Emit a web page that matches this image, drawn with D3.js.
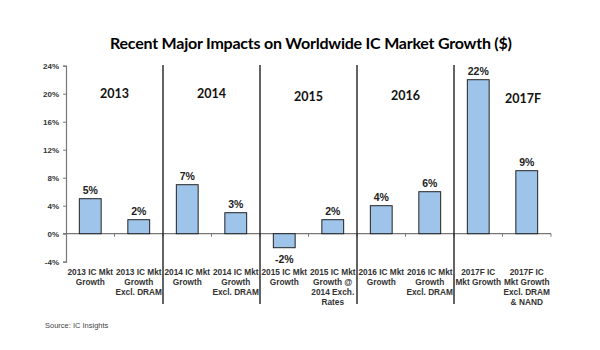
<!DOCTYPE html>
<html>
<head>
<meta charset="utf-8">
<script src="https://cdn.jsdelivr.net/npm/d3@7"></script>
<style>
  body { margin: 0; background: #fff; }
  svg { display: block; }
</style>
</head>
<body>
<div id="main"></div>
<script>
const ctx = {
    WIDTH: 600,
    HEIGHT: 350
}

// category labels, one array of lines per bar
const categories = [
  ["2013 IC Mkt", "Growth"],
  ["2013 IC Mkt", "Growth", "Excl. DRAM"],
  ["2014 IC Mkt", "Growth"],
  ["2014 IC Mkt", "Growth", "Excl. DRAM"],
  ["2015 IC Mkt", "Growth"],
  ["2015 IC Mkt", "Growth @", "2014 Exch.", "Rates"],
  ["2016 IC Mkt", "Growth"],
  ["2016 IC Mkt", "Growth", "Excl. DRAM"],
  ["2017F IC", "Mkt Growth"],
  ["2017F IC", "Mkt Growth", "Excl. DRAM", "& NAND"]
];
const growth = [5, 2, 7, 3, -2, 2, 4, 6, 22, 9];
const years = ["2013", "2014", "2015", "2016", "2017F"];
const yTicks = [-4, 0, 4, 8, 12, 16, 20, 24];

function createViz() {
  const svg = d3.select("#main").append("svg")
      .attr("width", ctx.WIDTH)
      .attr("height", ctx.HEIGHT);

  const x = d3.scaleBand()
      .domain(d3.range(growth.length))
      .range([66, 551]);
  const y = d3.scaleLinear()
      .domain([-4, 24])
      .range([261.7, 65.7]);
  const barW = x.bandwidth() * 0.45;

  // title
  svg.append("text")
      .attr("x", 311).attr("y", 49)
      .attr("text-anchor", "middle")
      .style("font-family", "Lato, 'Open Sans', sans-serif")
      .style("font-weight", "bold")
      .style("font-size", "16px")
      .attr("textLength", 402)
      .text("Recent Major Impacts on Worldwide IC Market Growth ($)");

  // y axis
  const yAxis = svg.append("g")
      .attr("transform", "translate(66,0)")
      .call(d3.axisLeft(y).tickValues(yTicks).tickSize(3).tickFormat(d => d + "%"));
  yAxis.select(".domain").attr("stroke", "#777").attr("stroke-width", 1.2);
  yAxis.selectAll(".tick line").attr("stroke", "#777");
  yAxis.selectAll("text")
      .attr("x", -7)
      .style("font-family", "Arial, 'Liberation Sans', sans-serif")
      .style("font-weight", "bold")
      .style("font-size", "8px")
      .attr("fill", "#333");

  // zero line with small ticks at category edges
  svg.append("line")
      .attr("x1", 63).attr("x2", 551)
      .attr("y1", y(0)).attr("y2", y(0))
      .attr("stroke", "#777").attr("stroke-width", 1.2);
  svg.selectAll(".xtick")
      .data(d3.range(1, growth.length + 1))
      .enter().append("line")
      .attr("x1", i => i < growth.length ? x(i) : x(i - 1) + x.bandwidth())
      .attr("x2", i => i < growth.length ? x(i) : x(i - 1) + x.bandwidth())
      .attr("y1", y(0)).attr("y2", y(0) + 3)
      .attr("stroke", "#777");

  // bars
  svg.selectAll(".bar")
      .data(growth)
      .enter().append("rect")
      .attr("x", (d, i) => x(i) + (x.bandwidth() - barW) / 2)
      .attr("y", d => y(Math.max(d, 0)))
      .attr("width", barW)
      .attr("height", d => Math.abs(y(d) - y(0)))
      .attr("fill", "#9fc4ea")
      .attr("stroke", "#222")
      .attr("stroke-width", 1);

  // value labels
  svg.selectAll(".val")
      .data(growth)
      .enter().append("text")
      .attr("x", (d, i) => x(i) + x.bandwidth() / 2)
      .attr("y", d => d >= 0 ? y(d) - 5 : y(d) + 15)
      .attr("text-anchor", "middle")
      .style("font-family", "Arial, 'Liberation Sans', sans-serif")
      .style("font-weight", "bold")
      .style("font-size", "10.5px")
      .attr("fill", "#222")
      .text(d => d + "%");

  // category labels
  const cat = svg.selectAll(".cat")
      .data(categories)
      .enter().append("text")
      .attr("text-anchor", "middle")
      .style("font-family", "Arial, 'Liberation Sans', sans-serif")
      .style("font-weight", "bold")
      .style("font-size", "8.3px")
      .attr("fill", "#333");
  cat.selectAll("tspan")
      .data((d, i) => d.map(line => ({line, i})))
      .enter().append("tspan")
      .attr("x", d => x(d.i) + x.bandwidth() / 2)
      .attr("y", (d, j) => 275 + j * 10)
      .text(d => d.line);

  // separators between year groups
  svg.selectAll(".sep")
      .data([2, 4, 6, 8])
      .enter().append("line")
      .attr("x1", i => x(i)).attr("x2", i => x(i))
      .attr("y1", 65).attr("y2", 304)
      .attr("stroke", "#222").attr("stroke-width", 1.4);

  // year labels centred over each pair
  const yearY = [98, 98, 101, 100, 103];
  svg.selectAll(".year")
      .data(years)
      .enter().append("text")
      .attr("x", (d, k) => k < 4 ? x(2 * k) + x.bandwidth() : 523)
      .attr("y", (d, k) => yearY[k])
      .attr("text-anchor", "middle")
      .style("font-family", "Lato, 'Open Sans', sans-serif")
      .style("font-weight", "bold")
      .style("font-size", "12.5px")
      .attr("fill", "#111")
      .text(d => d);

  // source
  svg.append("text")
      .attr("x", 45).attr("y", 328)
      .style("font-family", "Arial, 'Liberation Sans', sans-serif")
      .style("font-size", "7.5px")
      .attr("fill", "#444")
      .text("Source: IC Insights");
}

createViz();
</script>
</body>
</html>
